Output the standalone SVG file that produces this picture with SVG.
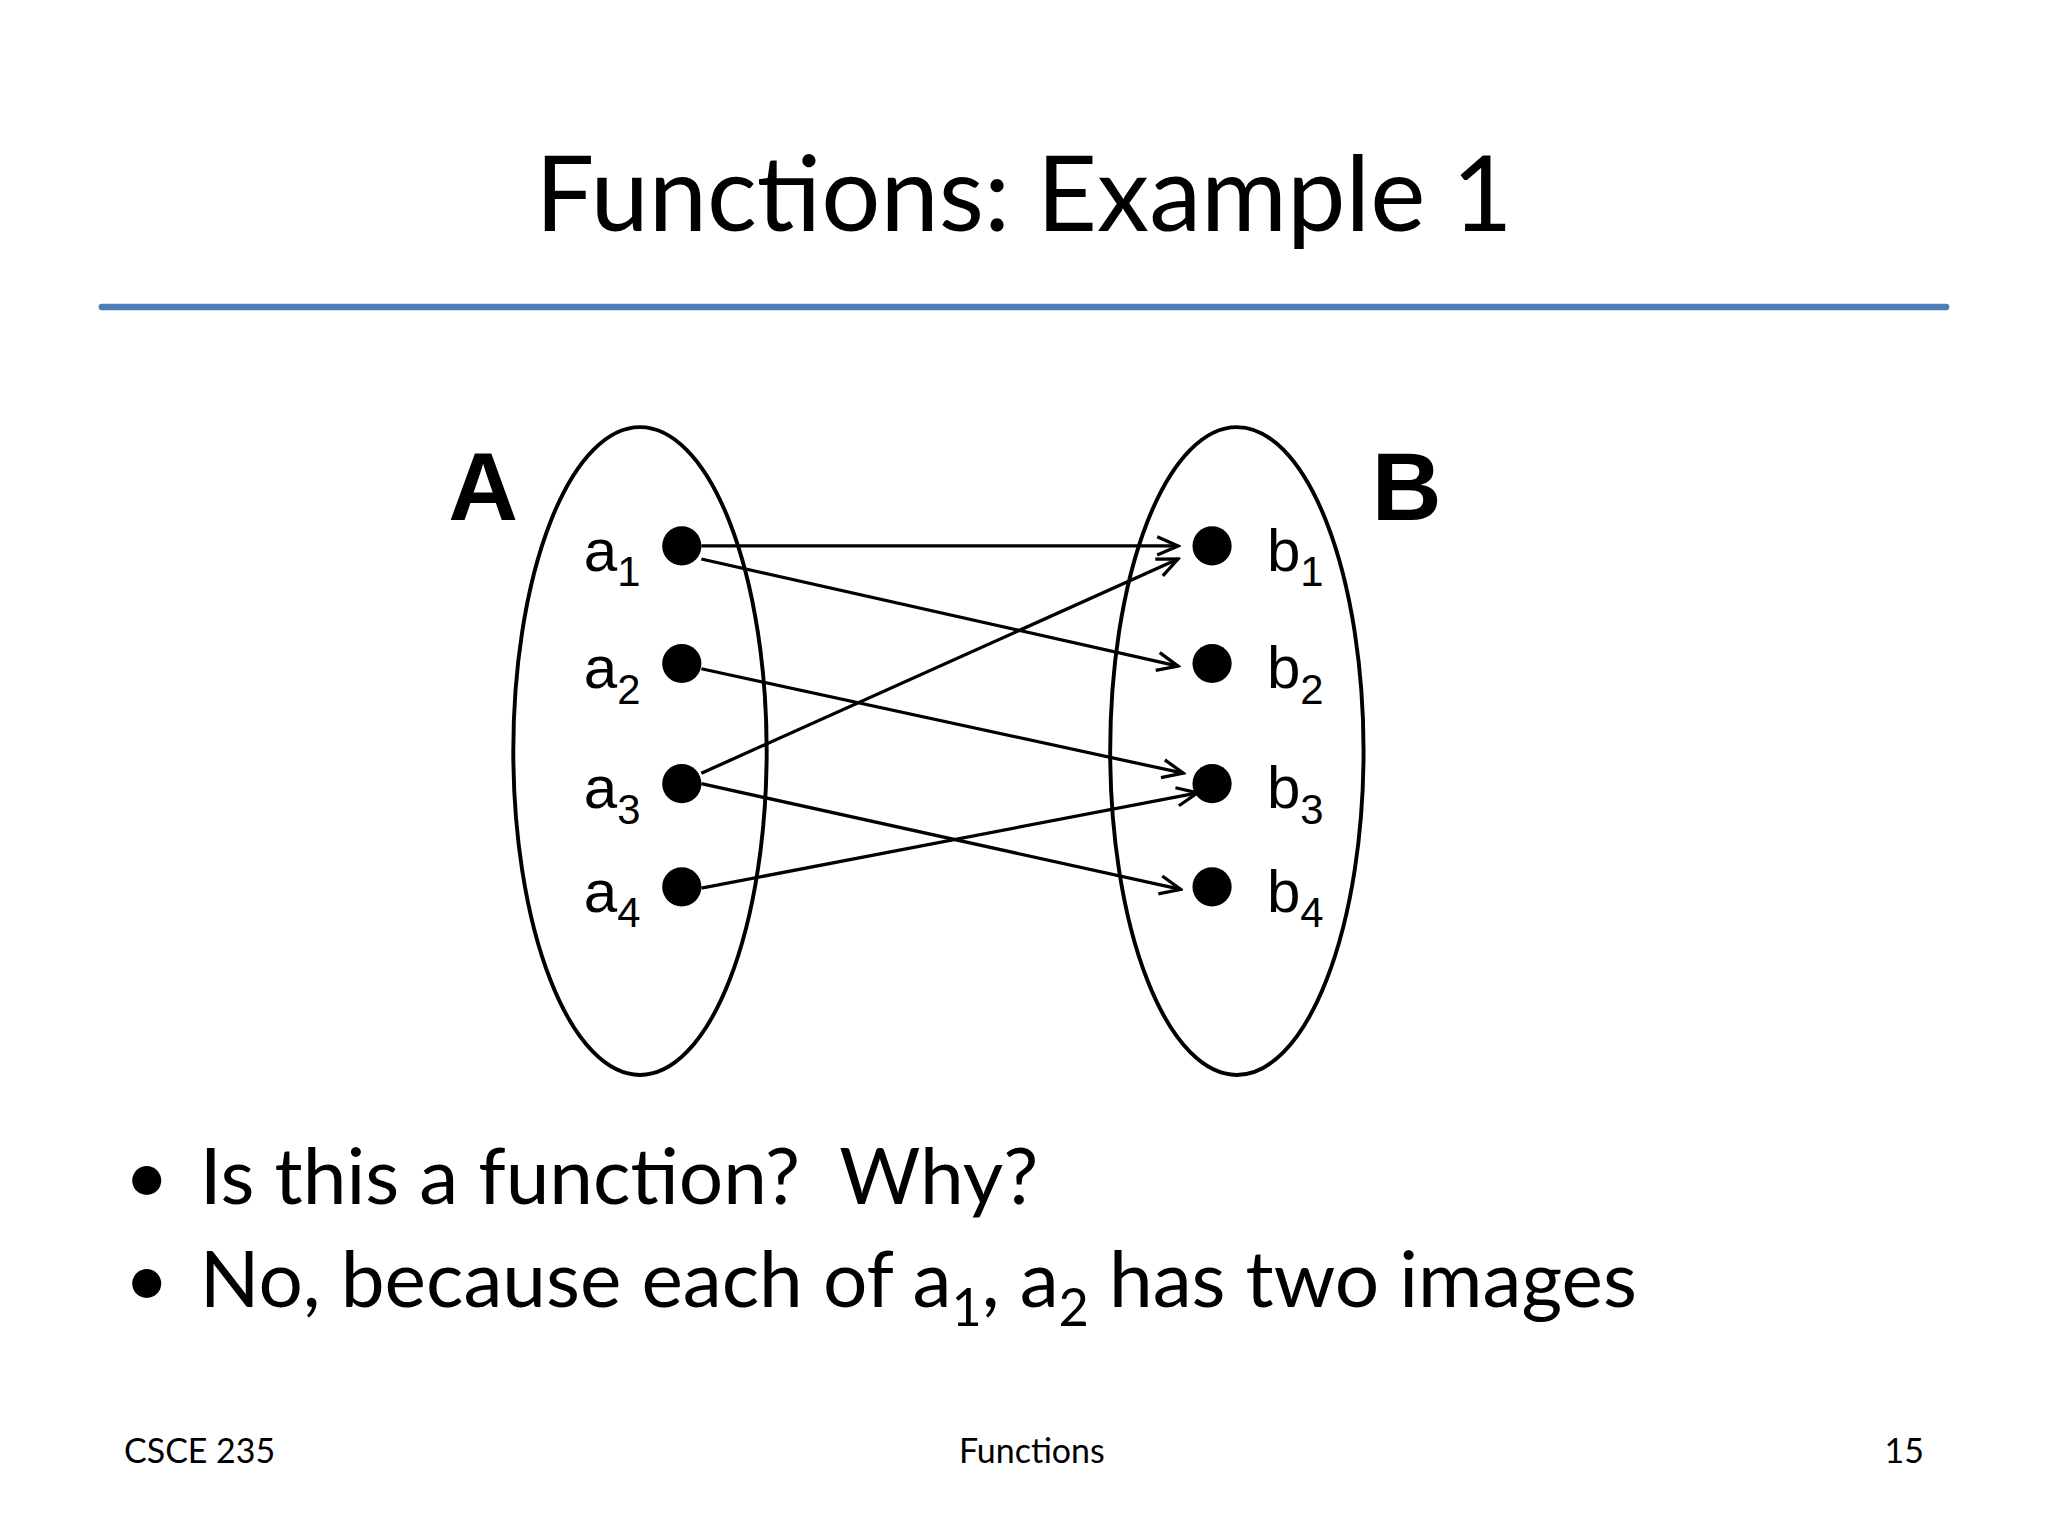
<svg xmlns="http://www.w3.org/2000/svg" width="2048" height="1536" viewBox="0 0 2048 1536">
<defs>
<marker id="ah" viewBox="0 0 20 20" refX="18" refY="10" markerWidth="20" markerHeight="20" markerUnits="userSpaceOnUse" orient="auto">
<path d="M2,3 L18,10 L2,17" fill="none" stroke="#000" stroke-width="2.5"/>
</marker>
<style>
.c{font-family:Lato,"Open Sans",sans-serif;fill:#000}
.s{font-family:"Liberation Sans",Arial,sans-serif;fill:#000}
.e{fill:none;stroke:#000;stroke-width:3}
.ln{stroke:#000;stroke-width:2.5;fill:none;marker-end:url(#ah)}
</style>
</defs>
<rect width="2048" height="1536" fill="#fff"/>
<g transform="scale(1.3061)">
<text class="c" x="784" y="177" font-size="80" text-anchor="middle">Functions: Example 1</text>
<line x1="78" y1="235" x2="1490" y2="235" stroke="#4a7ebb" stroke-width="5" stroke-linecap="round"/>
<g id="setA"><ellipse class="e" cx="490" cy="575" rx="97" ry="248"/><text class="s" x="370" y="398" font-size="74" font-weight="bold" text-anchor="middle">A</text></g>
<g id="setB"><ellipse class="e" cx="947" cy="575" rx="97" ry="248"/><text class="s" x="1077" y="398" font-size="74" font-weight="bold" text-anchor="middle">B</text></g>
<g id="a1"><circle cx="522" cy="418" r="15"/><text class="s" x="447" y="437" font-size="46">a<tspan font-size="32" dy="12">1</tspan></text></g>
<g id="a2"><circle cx="522" cy="508" r="15"/><text class="s" x="447" y="527" font-size="46">a<tspan font-size="32" dy="12">2</tspan></text></g>
<g id="a3"><circle cx="522" cy="600" r="15"/><text class="s" x="447" y="619" font-size="46">a<tspan font-size="32" dy="12">3</tspan></text></g>
<g id="a4"><circle cx="522" cy="679" r="15"/><text class="s" x="447" y="698" font-size="46">a<tspan font-size="32" dy="12">4</tspan></text></g>
<g id="b1"><circle cx="928" cy="418" r="15"/><text class="s" x="970" y="437" font-size="46">b<tspan font-size="32" dy="12">1</tspan></text></g>
<g id="b2"><circle cx="928" cy="508" r="15"/><text class="s" x="970" y="527" font-size="46">b<tspan font-size="32" dy="12">2</tspan></text></g>
<g id="b3"><circle cx="928" cy="600" r="15"/><text class="s" x="970" y="619" font-size="46">b<tspan font-size="32" dy="12">3</tspan></text></g>
<g id="b4"><circle cx="928" cy="679" r="15"/><text class="s" x="970" y="698" font-size="46">b<tspan font-size="32" dy="12">4</tspan></text></g>
<g id="connectors">
<line class="ln" x1="537" y1="418" x2="902" y2="418"/>
<line class="ln" x1="537" y1="428" x2="902" y2="510"/>
<line class="ln" x1="537" y1="512" x2="906" y2="592"/>
<line class="ln" x1="537" y1="592" x2="902" y2="428"/>
<line class="ln" x1="537" y1="600" x2="904" y2="681"/>
<line class="ln" x1="537" y1="680" x2="917" y2="607"/>
</g>
<text class="c" x="95" y="922" font-size="60">•</text>
<text class="c" x="153" y="922" font-size="60" xml:space="preserve">Is this a function?  Why?</text>
<text class="c" x="95" y="1001" font-size="60">•</text>
<text class="c" x="153" y="1001" font-size="60">No, because each of a<tspan font-size="40" dy="14">1</tspan><tspan dy="-14">, a</tspan><tspan font-size="40" dy="14">2</tspan><tspan dy="-14"> has two images</tspan></text>
<text class="c" x="95" y="1120" font-size="26">CSCE 235</text>
<text class="c" x="790" y="1120" font-size="26" text-anchor="middle">Functions</text>
<text class="c" x="1473" y="1120" font-size="26" text-anchor="end">15</text>
</g>
</svg>
